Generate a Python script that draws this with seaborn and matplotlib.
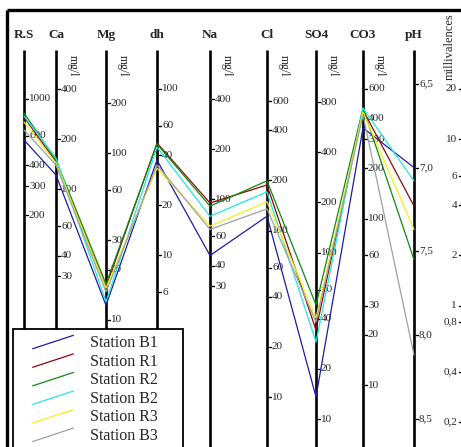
import numpy as np
import pandas as pd
import matplotlib
matplotlib.use("Agg")
import matplotlib.pyplot as plt
import seaborn as sns
from matplotlib.lines import Line2D
from matplotlib.legend_handler import HandlerBase

# ---------------- data (mg/l, pH units) ----------------
stations = ["Station B1", "Station R1", "Station R2", "Station B2", "Station R3", "Station B3"]
colors = ["#1c1ca8", "#8b0a0a", "#108a10", "#22e6e6", "#f2f21a", "#a0a0a0"]
params = ["R.S", "Ca", "Mg", "dh", "Na", "Cl", "SO4", "CO3", "pH"]

rs = [567, 779, 824, 790, 727, 651]
ca = [122, 146, 150, 154, 144, 140]
mg = [12.2, 15.7, 16.4, 12.8, 15.5, 14.7]
dh = [37.4, 47.4, 46.7, 44.8, 33.5, 35.0]
na = [46, 95, 91, 79, 69, 66]
cl = [122, 188, 199, 171, 149, 135]
so4 = [13.6, 34.3, 48.4, 29.0, 40.5, 38.3]
co3 = [350, 449, 461, 461, 436, 419]
ph = [7.00, 7.23, 7.55, 7.08, 7.37, 8.12]

# tick labels of each scale
rs_ticks = [1000, 600, 400, 300, 200]
ca_ticks = [400, 200, 100, 60, 40, 30]
mg_ticks = [200, 100, 60, 30, 20, 10]
dh_ticks = [100, 60, 40, 20, 10, 6]
na_ticks = [400, 200, 100, 60, 40, 30]
cl_ticks = [600, 400, 200, 100, 60, 40, 20, 10]
so4_ticks = [800, 400, 200, 100, 60, 40, 20, 10]
co3_ticks = [600, 400, 300, 200, 100, 60, 30, 20, 10]
ph_ticks = [6.5, 7.0, 7.5, 8.0, 8.5]
mv_ticks = [20, 10, 6, 4, 2, 1, 0.8, 0.4, 0.2]

# conversion mg/l -> meq/l (equivalent weights)
factors = {"R.S": 57.4, "Ca": 20.04, "Mg": 12.15, "dh": 5.0, "Na": 23.0,
           "Cl": 35.45, "SO4": 48.03, "CO3": 30.0}


def to_meq(param, v):
    v = np.asarray(v, dtype=float)
    if param == "pH":
        return 10 ** ((7.825 - v) * 1.005)
    return v / factors[param]


values = {"R.S": rs, "Ca": ca, "Mg": mg, "dh": dh, "Na": na, "Cl": cl,
          "SO4": so4, "CO3": co3, "pH": ph}
ticks = {"R.S": rs_ticks, "Ca": ca_ticks, "Mg": mg_ticks, "dh": dh_ticks,
         "Na": na_ticks, "Cl": cl_ticks, "SO4": so4_ticks, "CO3": co3_ticks,
         "pH": ph_ticks}

# ---------------- layout ----------------
W, H = 461, 447
axis_x = [24, 56, 106, 157, 210, 267, 316, 363, 414]


def py(px):
    # pixel row -> meq value on the common log scale
    return 10 ** ((305.6 - px) / 166.5)


sns.set_theme(style="white")
plt.rcParams["font.family"] = ["Liberation Serif", "DejaVu Serif"]

fig = plt.figure(figsize=(W / 100, H / 100), dpi=100)
ax = fig.add_axes([0, 0, 1, 1])
ax.set_yscale("log")
ax.set_xlim(0, W)
ax.set_ylim(py(H), py(0))
ax.axis("off")

# frame (top and left)
ax.plot([7, W], [py(10), py(10)], color="black", lw=2.4, solid_capstyle="butt", zorder=5)
ax.plot([7, 7], [py(10), py(H)], color="black", lw=2.4, solid_capstyle="butt", zorder=5)

# vertical axes, headers, ticks
for p, x in zip(params, axis_x):
    ax.plot([x, x], [py(50), py(H)], color="black", lw=1.9, solid_capstyle="butt", zorder=2)
    ax.text(x, py(35), p, ha="center", va="center", fontsize=9.5, fontweight="bold")
    for t in ticks[p]:
        yv = to_meq(p, t)
        ax.plot([x + 1.5, x + 3.5], [yv, yv], color="black", lw=1.0, zorder=2)
        lab = (f"{t:.1f}".replace(".", ",")) if p == "pH" else f"{t:g}"
        ax.text(x + 5, yv, lab, ha="left", va="center", fontsize=8, zorder=2)
    if p not in ("R.S", "dh", "pH"):
        ax.text(x + 17, py(66), "mg/l", ha="center", va="center", rotation=-90, fontsize=8.5)

# millivalences scale at the right
ax.text(450, py(47), "millivalences", ha="center", va="center", rotation=90, fontsize=9)
for t in mv_ticks:
    ax.plot([459, 461], [t, t], color="black", lw=1.0)
    ax.text(457, t, f"{t:g}".replace(".", ","), ha="right", va="center", fontsize=8)

# ---------------- data lines ----------------
rows = []
for i, s in enumerate(stations):
    for p, x in zip(params, axis_x):
        rows.append({"station": s, "x": x, "meq": float(to_meq(p, values[p][i]))})
df = pd.DataFrame(rows)

sns.lineplot(data=df, x="x", y="meq", hue="station", hue_order=stations,
             palette=dict(zip(stations, colors)), sort=False, estimator=None,
             lw=0.9, legend=False, ax=ax, zorder=3)
ax.set_xlim(0, W)
ax.set_ylim(py(H), py(0))
ax.axis("off")


class SlantHandler(HandlerBase):
    def create_artists(self, legend, orig_handle, xdescent, ydescent, width,
                       height, fontsize, trans):
        x0 = -xdescent + width * 0.25
        ln = Line2D([x0, -xdescent + width],
                    [-ydescent - 0.15 * height, -ydescent + 1.05 * height],
                    color=orig_handle.get_color(), lw=0.9)
        ln.set_transform(trans)
        return [ln]


handles = [Line2D([], [], color=c) for c in colors]
leg = ax.legend(handles, stations, loc="upper left", mode="expand",
                bbox_to_anchor=(13 / W, 1 - 329 / H - 0.3, 170 / W, 0.3),
                bbox_transform=fig.transFigure,
                fontsize=11.5, handlelength=3.4, handletextpad=1.06, labelspacing=0.16,
                borderpad=0.38, borderaxespad=0, fancybox=False, framealpha=1,
                edgecolor="black", facecolor="white",
                handler_map={Line2D: SlantHandler()})
leg.get_frame().set_linewidth(1.3)
leg.set_zorder(10)

fig.savefig("out.png", dpi=100, facecolor="white")
